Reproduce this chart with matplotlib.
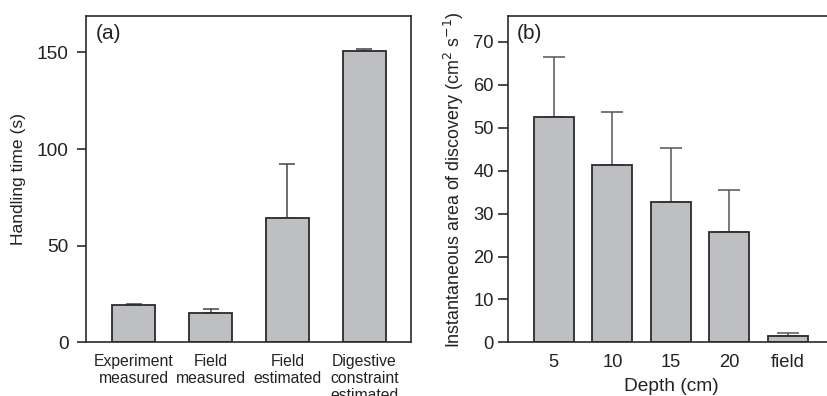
import matplotlib
matplotlib.use("Agg")
import matplotlib.pyplot as plt
import numpy as np

plt.rcParams['font.family'] = ['Liberation Sans', 'DejaVu Sans']

# Panel (a)
cats_a = ["Experiment\nmeasured", "Field\nmeasured", "Field\nestimated", "Digestive\nconstraint\nestimated"]
vals_a = [19.2, 15.4, 64.2, 150.7]
err_a = [0.8, 1.7, 28.2, 1.2]
yticks_a = [0, 50, 100, 150]

# Panel (b)
cats_b = ["5", "10", "15", "20", "field"]
vals_b = [52.5, 41.4, 32.7, 25.8, 1.55]
err_b = [14.0, 12.3, 12.6, 9.7, 0.55]
yticks_b = [0, 10, 20, 30, 40, 50, 60, 70]

W, H = 827, 396
fig = plt.figure(figsize=(W/100, H/100), dpi=100)

bar_col = '#bebfc3'
edge_col = '#2b2b2b'
txt_col = '#222222'

def px(l, b, r, t):
    return [l/W, (H-b)/H, (r-l)/W, (b-t)/H]

ax1 = fig.add_axes(px(86, 342.4, 411, 16))
ax2 = fig.add_axes(px(508.3, 342.4, 835, 16))

for ax in (ax1, ax2):
    for s in ax.spines.values():
        s.set_color(edge_col)
        s.set_linewidth(1.2)
    ax.tick_params(axis='x', length=0, labelcolor=txt_col)

ax1.tick_params(axis='y', direction='out', length=6.5, width=1.2, color=edge_col,
                labelsize=13.8, labelcolor=txt_col, pad=6)
ax2.tick_params(axis='y', direction='out', length=7, width=1.2, color=edge_col,
                labelsize=13.2, labelcolor=txt_col, pad=3.5)

x1 = np.arange(len(cats_a))
ax1.bar(x1, vals_a, width=0.565, color=bar_col, edgecolor=edge_col, linewidth=1.3, zorder=2)
ax1.errorbar(x1, vals_a, yerr=[np.zeros(len(err_a)), err_a], fmt='none', ecolor='#444444',
             elinewidth=1.1, capsize=5.5, capthick=1.1, zorder=1)
ax1.set_xlim(-0.617, 3.604)
ax1.set_ylim(0, 168.8)
ax1.set_yticks(yticks_a)
ax1.set_xticks(x1)
ax1.set_xticklabels(cats_a, fontsize=11.3, linespacing=1.2, va='top')
ax1.tick_params(axis='x', pad=8)
ax1.set_ylabel("Handling time (s)", fontsize=12.6, color=txt_col, labelpad=8)
ax1.text(0.03, 0.975, "(a)", transform=ax1.transAxes, fontsize=15, va='top', ha='left', color=txt_col)

x2 = np.arange(len(cats_b))
ax2.bar(x2, vals_b, width=0.685, color=bar_col, edgecolor=edge_col, linewidth=1.3, zorder=2)
ax2.errorbar(x2, vals_b, yerr=[np.zeros(len(err_b)), err_b], fmt='none', ecolor='#555555',
             elinewidth=1.1, capsize=8, capthick=1.1, zorder=1)
ax2.set_xlim(-0.78, 4.81)
ax2.set_ylim(0, 76.0)
ax2.set_yticks(yticks_b)
ax2.set_xticks(x2)
ax2.set_xticklabels(cats_b, fontsize=13.2)
ax2.tick_params(axis='x', pad=8)
ax2.set_xlabel("Depth (cm)", fontsize=13.8, color=txt_col, labelpad=5.5)
ax2.set_ylabel("Instantaneous area of discovery (cm$^2$ s$^{-1}$)", fontsize=12.9, color=txt_col, labelpad=5)
ax2.text(0.025, 0.975, "(b)", transform=ax2.transAxes, fontsize=15, va='top', ha='left', color=txt_col)

fig.savefig("out.png", dpi=100)
